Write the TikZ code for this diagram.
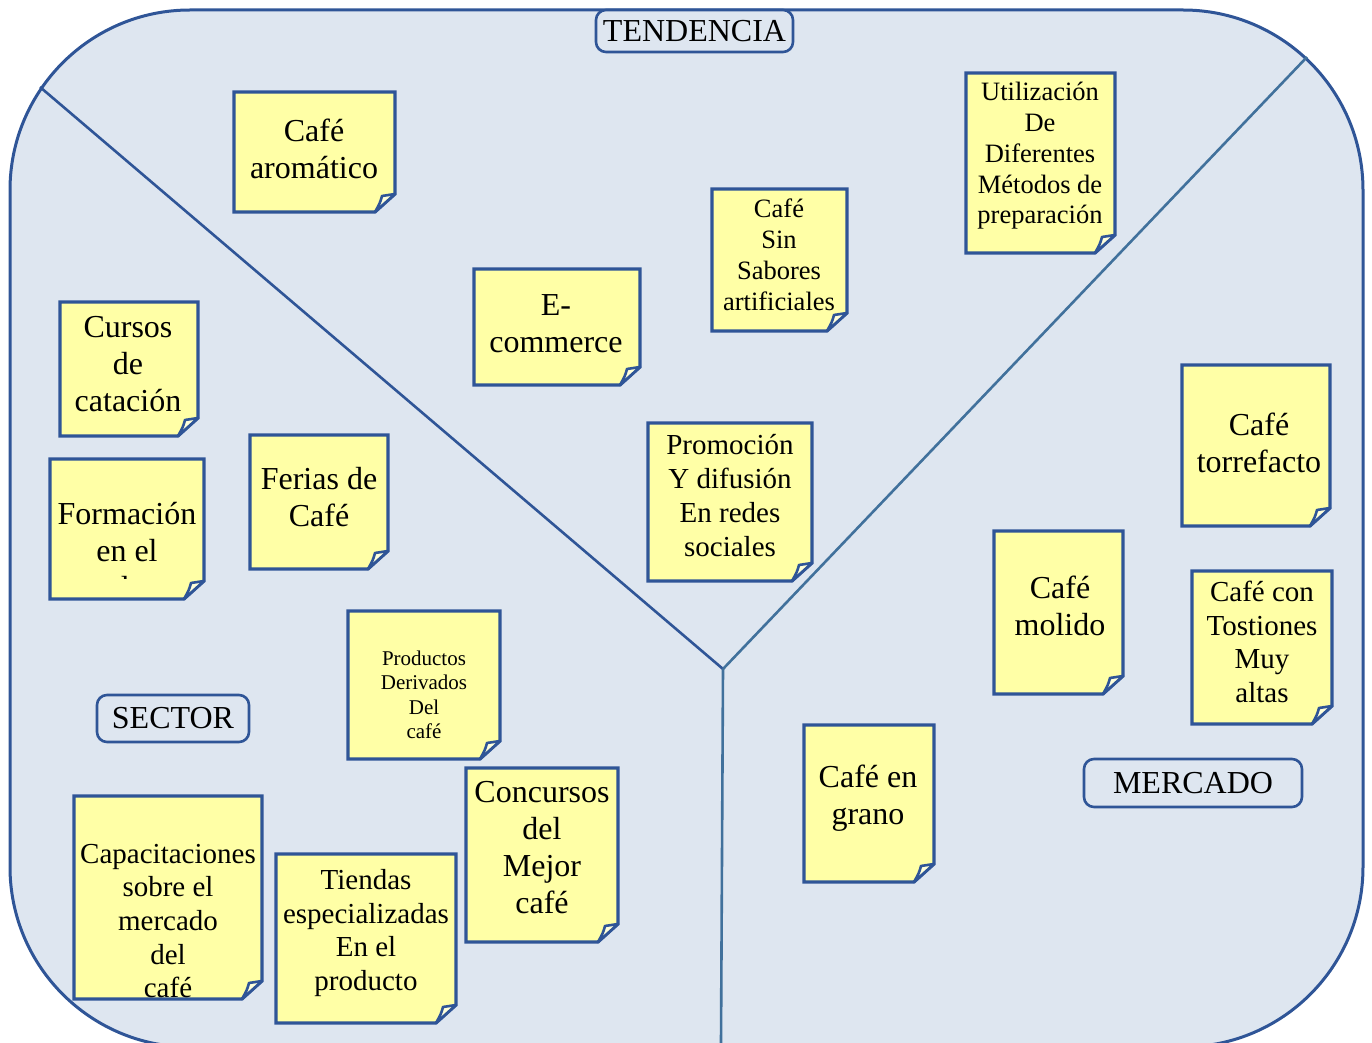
\documentclass[tikz,border=0pt]{standalone}
\usepackage{fontspec}
\setmainfont{Liberation Serif}
\definecolor{panel color}{HTML}{DEE6F0}
\definecolor{frame color}{HTML}{2F5597}
\definecolor{divider color}{HTML}{41719C}
\definecolor{note color}{HTML}{FFFFA6}
\colorlet{fold color}{note color!40!white}
\tikzset{
    x={0.5pt},
    y={-0.5pt},
    panel/.style={
        fill=panel color,
        draw=frame color,
        line width={1.5pt},
        rounded corners={90pt},
    },
    divider/.style={
        draw={#1},
        line width={1.3pt},
    },
    divider/.default={divider color},
    sticky note/.style={
        fill=note color,
        draw=frame color,
        line width={1.6pt},
    },
    note fold/.style={
        fill=fold color,
        draw=frame color,
        line width={1.3pt},
        line join=round,
    },
    note text/.style 2 args={
        align=center,
        inner sep=0pt,
        font={\fontsize{#1}{#2}\selectfont},
    },
    note text/.default={16}{18.5},
    area label/.style={
        draw=frame color, fill=panel color,
        line width={1.3pt},
        rounded corners={5pt},
        inner sep=0pt,
        font={\fontsize{16}{18.5}\selectfont},
    },
}

\begin{document}
\begin{tikzpicture}
\useasboundingbox (0,0) rectangle (1372,1043);
\clip (0,0) rectangle (1372,1043);
% background
\path[panel] (10,10) rectangle (1363,1047);
% dividers
\coordinate (hub) at (723,669);
\coordinate (sector corner) at (40,87);
\coordinate (mercado corner) at (1307,57);
\coordinate (bottom end) at (721,1043);
\path[divider={frame color}] (sector corner) -- (hub);
\path[divider] (mercado corner) -- (hub);
\path[divider] (hub) -- (bottom end);
% sticky notes
\foreach \nl/\nt/\nr/\nb in {234/92/395/212, 474/269/640/385, 712/189/847/331,
    966/73/1115/253, 60/302/198/436, 50/459/204/599, 250/435/388/569,
    648/423/812/581, 348/611/500/759, 466/768/618/942, 74/796/262/999,
    276/854/456/1023, 1182/365/1330/526, 994/531/1123/694,
    1192/571/1332/724, 804/725/934/882}
{
    \path[sticky note] (\nl,\nt) -- (\nr,\nt) -- (\nr,\nb-18) -- (\nr-20,\nb) -- (\nl,\nb) -- cycle;
    \path[note fold] (\nr,\nb-18) .. controls (\nr-6,\nb-17) .. (\nr-13,\nb-16) .. controls (\nr-15,\nb-9) .. (\nr-20,\nb) -- cycle;
}
% note texts
\node[note text] (aromatico) at (314,149) {Café\\aromático};
\node[note text] (ecommerce) at (556,324) {E-\\commerce};
\node[note text={13.25}{15.4}] (sin sabores) at (779,255) {Café\\Sin\\Sabores\\artificiales};
\node[note text={13.25}{15.4}] (metodos) at (1040,156) {Utilización\\De\\Diferentes\\Métodos de\\preparación};
\node[note text] (catacion) at (128,364) {Cursos\\de\\catación};
\begin{scope}
\clip (50,459) rectangle (204,578);
\node[note text] (formacion) at (127,554) {Formación\\en el\\producto};
\end{scope}
\node[note text] (ferias) at (319,497) {Ferias de\\Café};
\node[note text={14.5}{17}] (promocion) at (730,496) {Promoción\\Y difusión\\En redes\\sociales};
\node[note text={10.5}{12.25}] (derivados) at (424,695) {Productos\\Derivados\\Del\\café};
\node[note text] (concursos) at (542,848) {Concursos\\del\\Mejor\\café};
\node[note text={14.5}{16.85}] (capacitaciones) at (168,921) {Capacitaciones\\sobre el\\mercado\\del\\café};
\node[note text={14.5}{16.85}] (tiendas) at (366,933) {Tiendas\\especializadas\\En el\\producto};
\node[note text] (torrefacto) at (1259,443) {Café\\torrefacto};
\node[note text] (molido) at (1060,606) {Café\\molido};
\node[note text={14.5}{16.85}] (tostiones) at (1262,642) {Café con\\Tostiones\\Muy\\altas};
\node[note text] (grano) at (868,798) {Café en\\grano};
% area labels
\node[area label, minimum width={98.5pt}, minimum height={21pt}] (tendencia) at (694.5,31) {TENDENCIA};
\node[area label, minimum width={76pt}, minimum height={23.5pt}] (sector) at (173,718.5) {SECTOR};
\node[area label, minimum width={109pt}, minimum height={24pt}] (mercado) at (1193,783) {MERCADO};
\end{tikzpicture}
\end{document}
